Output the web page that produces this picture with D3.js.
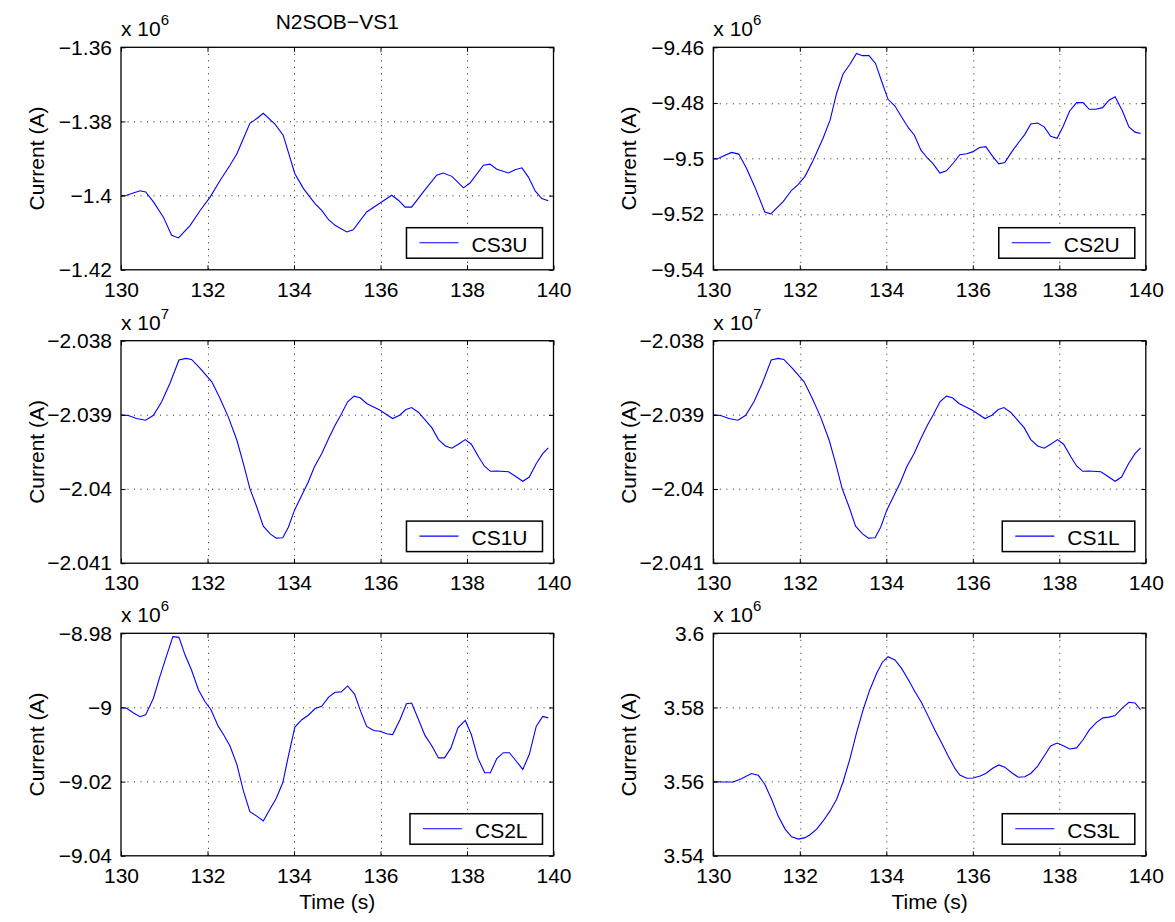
<!DOCTYPE html>
<html>
<head>
<meta charset="utf-8">
<script src="https://cdn.jsdelivr.net/npm/d3@7"></script>
<style>
  body { margin: 0; background: #fff; }
  svg { display: block; }
  text { font-family: "Liberation Sans", Helvetica, Arial, sans-serif; fill: #000; }
</style>
</head>
<body>
<svg id="chart" width="1175" height="922"></svg>
<script>
// time axis, shared by all panels
var xTicks = [130, 132, 134, 136, 138, 140];

// traces: [time (s), current in units of 10^exp A]
var cs3u = [[130.00,-1.4000],[130.13,-1.3999],[130.44,-1.3987],[130.57,-1.3990],[130.75,-1.4017],[130.98,-1.4058],[131.17,-1.4107],[131.33,-1.4114],[131.60,-1.4080],[131.83,-1.4040],[132.06,-1.4004],[132.29,-1.3959],[132.52,-1.3918],[132.68,-1.3887],[132.83,-1.3846],[132.98,-1.3805],[133.14,-1.3792],[133.29,-1.3778],[133.56,-1.3807],[133.75,-1.3837],[134.02,-1.3941],[134.22,-1.3981],[134.49,-1.4022],[134.64,-1.4040],[134.80,-1.4065],[134.95,-1.4080],[135.22,-1.4098],[135.37,-1.4092],[135.68,-1.4044],[135.99,-1.4020],[136.26,-1.3999],[136.42,-1.4013],[136.57,-1.4031],[136.72,-1.4031],[136.99,-1.3990],[137.30,-1.3945],[137.45,-1.3939],[137.65,-1.3948],[137.92,-1.3979],[138.07,-1.3966],[138.38,-1.3918],[138.53,-1.3915],[138.69,-1.3929],[138.96,-1.3939],[139.11,-1.3930],[139.27,-1.3925],[139.42,-1.3950],[139.58,-1.3988],[139.73,-1.4008],[139.88,-1.4014]];

var cs2u = [[130.00,-9.5000],[130.12,-9.4999],[130.42,-9.4978],[130.59,-9.4984],[130.77,-9.5036],[130.96,-9.5102],[131.19,-9.5192],[131.33,-9.5199],[131.62,-9.5154],[131.81,-9.5114],[131.96,-9.5094],[132.12,-9.5064],[132.31,-9.5006],[132.54,-9.4926],[132.70,-9.4862],[132.85,-9.4766],[133.00,-9.4696],[133.16,-9.4661],[133.31,-9.4622],[133.45,-9.4630],[133.60,-9.4630],[133.75,-9.4658],[133.91,-9.4730],[134.04,-9.4787],[134.20,-9.4811],[134.35,-9.4850],[134.51,-9.4889],[134.65,-9.4916],[134.80,-9.4970],[134.95,-9.4998],[135.08,-9.5018],[135.24,-9.5052],[135.39,-9.5044],[135.55,-9.5016],[135.70,-9.4986],[135.86,-9.4983],[135.99,-9.4976],[136.16,-9.4960],[136.30,-9.4957],[136.46,-9.4992],[136.60,-9.5019],[136.74,-9.5014],[136.90,-9.4976],[137.05,-9.4944],[137.20,-9.4914],[137.34,-9.4876],[137.50,-9.4872],[137.65,-9.4886],[137.80,-9.4920],[137.95,-9.4927],[138.09,-9.4884],[138.24,-9.4829],[138.40,-9.4799],[138.55,-9.4799],[138.69,-9.4823],[138.84,-9.4823],[139.00,-9.4817],[139.15,-9.4790],[139.29,-9.4778],[139.46,-9.4829],[139.61,-9.4886],[139.75,-9.4905],[139.88,-9.4910]];

var cs1u = [[130.00,-2.039000],[130.17,-2.039009],[130.36,-2.039050],[130.57,-2.039072],[130.75,-2.039005],[130.94,-2.038824],[131.13,-2.038577],[131.34,-2.038261],[131.50,-2.038239],[131.63,-2.038252],[131.83,-2.038374],[132.10,-2.038554],[132.29,-2.038779],[132.48,-2.039027],[132.68,-2.039342],[132.83,-2.039658],[132.98,-2.039995],[133.14,-2.040243],[133.29,-2.040500],[133.45,-2.040604],[133.59,-2.040662],[133.74,-2.040658],[133.87,-2.040514],[134.01,-2.040288],[134.16,-2.040108],[134.33,-2.039905],[134.47,-2.039703],[134.64,-2.039523],[134.80,-2.039320],[134.95,-2.039140],[135.08,-2.039005],[135.24,-2.038824],[135.39,-2.038748],[135.53,-2.038770],[135.68,-2.038847],[135.99,-2.038937],[136.28,-2.039050],[136.44,-2.039005],[136.59,-2.038928],[136.72,-2.038901],[136.88,-2.038968],[137.19,-2.039176],[137.34,-2.039333],[137.50,-2.039419],[137.65,-2.039450],[137.80,-2.039396],[137.96,-2.039333],[138.10,-2.039396],[138.27,-2.039568],[138.40,-2.039689],[138.54,-2.039761],[138.69,-2.039757],[138.96,-2.039766],[139.11,-2.039824],[139.29,-2.039896],[139.44,-2.039838],[139.60,-2.039658],[139.75,-2.039523],[139.88,-2.039446]];

// CS1L reads the same as CS1U on the figure
var cs1l = cs1u;

var cs2l = [[130.00,-9.0000],[130.13,-9.0002],[130.29,-9.0015],[130.44,-9.0025],[130.57,-9.0020],[130.75,-8.9975],[130.90,-8.9916],[131.06,-8.9858],[131.20,-8.9809],[131.34,-8.9811],[131.48,-8.9858],[131.63,-8.9899],[131.79,-8.9952],[131.94,-8.9984],[132.08,-9.0006],[132.25,-9.0051],[132.37,-9.0073],[132.52,-9.0104],[132.68,-9.0154],[132.83,-9.0225],[132.98,-9.0281],[133.14,-9.0293],[133.29,-9.0306],[133.45,-9.0273],[133.59,-9.0245],[133.74,-9.0203],[133.87,-9.0131],[134.02,-9.0053],[134.18,-9.0033],[134.33,-9.0021],[134.49,-9.0003],[134.64,-8.9997],[134.80,-8.9972],[134.95,-8.9959],[135.09,-8.9958],[135.24,-8.9942],[135.40,-8.9964],[135.54,-9.0010],[135.68,-9.0051],[135.84,-9.0062],[135.99,-9.0064],[136.14,-9.0071],[136.28,-9.0073],[136.45,-9.0033],[136.60,-8.9990],[136.72,-8.9988],[136.88,-9.0033],[137.03,-9.0076],[137.19,-9.0104],[137.34,-9.0136],[137.48,-9.0136],[137.63,-9.0109],[137.79,-9.0055],[137.96,-9.0035],[138.10,-9.0073],[138.25,-9.0136],[138.41,-9.0176],[138.54,-9.0176],[138.69,-9.0138],[138.84,-9.0122],[138.98,-9.0122],[139.14,-9.0145],[139.29,-9.0167],[139.44,-9.0127],[139.60,-9.0051],[139.75,-9.0024],[139.88,-9.0028]];

var cs3l = [[130.00,3.5600],[130.23,3.5599],[130.46,3.5599],[130.65,3.5608],[130.88,3.5622],[131.04,3.5617],[131.19,3.5593],[131.35,3.5552],[131.50,3.5507],[131.66,3.5472],[131.81,3.5451],[131.97,3.5445],[132.12,3.5449],[132.23,3.5456],[132.39,3.5472],[132.54,3.5494],[132.70,3.5521],[132.85,3.5552],[133.00,3.5599],[133.16,3.5662],[133.31,3.5731],[133.47,3.5796],[133.62,3.5848],[133.78,3.5893],[133.91,3.5922],[134.04,3.5937],[134.20,3.5928],[134.35,3.5906],[134.51,3.5875],[134.66,3.5843],[134.82,3.5812],[134.97,3.5776],[135.12,3.5740],[135.28,3.5704],[135.43,3.5669],[135.59,3.5635],[135.70,3.5618],[135.86,3.5609],[136.01,3.5610],[136.17,3.5615],[136.30,3.5622],[136.46,3.5636],[136.60,3.5645],[136.74,3.5639],[136.90,3.5624],[137.05,3.5612],[137.20,3.5613],[137.34,3.5622],[137.50,3.5642],[137.65,3.5669],[137.80,3.5696],[137.95,3.5704],[138.09,3.5697],[138.24,3.5688],[138.40,3.5691],[138.55,3.5713],[138.69,3.5739],[138.86,3.5760],[139.01,3.5772],[139.15,3.5774],[139.29,3.5778],[139.46,3.5799],[139.61,3.5814],[139.75,3.5812],[139.88,3.5794]];

// y ticks and their printed labels per panel
var cs3uTicks = [-1.42, -1.40, -1.38, -1.36];
var cs3uLabels = ["\u22121.42", "\u22121.4", "\u22121.38", "\u22121.36"];
var cs2uTicks = [-9.54, -9.52, -9.50, -9.48, -9.46];
var cs2uLabels = ["\u22129.54", "\u22129.52", "\u22129.5", "\u22129.48", "\u22129.46"];
var cs1Ticks = [-2.041, -2.040, -2.039, -2.038];
var cs1Labels = ["\u22122.041", "\u22122.04", "\u22122.039", "\u22122.038"];
var cs2lTicks = [-9.04, -9.02, -9.00, -8.98];
var cs2lLabels = ["\u22129.04", "\u22129.02", "\u22129", "\u22128.98"];
var cs3lTicks = [3.54, 3.56, 3.58, 3.60];
var cs3lLabels = ["3.54", "3.56", "3.58", "3.6"];

var panels = [
    {name: "CS3U", data: cs3u, ticks: cs3uTicks, labels: cs3uLabels, exp: 6, col: 0, row: 0},
    {name: "CS2U", data: cs2u, ticks: cs2uTicks, labels: cs2uLabels, exp: 6, col: 1, row: 0},
    {name: "CS1U", data: cs1u, ticks: cs1Ticks, labels: cs1Labels, exp: 7, col: 0, row: 1},
    {name: "CS1L", data: cs1l, ticks: cs1Ticks, labels: cs1Labels, exp: 7, col: 1, row: 1},
    {name: "CS2L", data: cs2l, ticks: cs2lTicks, labels: cs2lLabels, exp: 6, col: 0, row: 2},
    {name: "CS3L", data: cs3l, ticks: cs3lTicks, labels: cs3lLabels, exp: 6, col: 1, row: 2}
];

var colX = [121, 713.3];
var rowY = [47.3, 340.7, 633.3];
var plotW = 432.5, plotH = 222.5;
var fontSize = 21;
var tickLen = 4.5;

var svg = d3.select("#chart");

svg.append("text")
    .attr("x", colX[0] + plotW / 2)
    .attr("y", 29)
    .attr("text-anchor", "middle")
    .style("font-size", fontSize + "px")
    .text("N2SOB\u2212VS1");

panels.forEach(function(p){
    var x0 = colX[p.col], y0 = rowY[p.row];
    var g = svg.append("g").attr("transform", "translate(" + x0 + "," + y0 + ")");

    var x = d3.scaleLinear().domain([130, 140]).range([0, plotW]);
    var y = d3.scaleLinear().domain(d3.extent(p.ticks)).range([plotH, 0]);

    // dotted grid
    var grid = g.append("g").attr("stroke", "#222").attr("stroke-width", 1)
        .attr("stroke-dasharray", "1,5.5");
    grid.selectAll(".gx").data(xTicks.slice(1, -1)).enter().append("line")
        .attr("x1", function(d){ return Math.round(x(d)) + 0.5; })
        .attr("x2", function(d){ return Math.round(x(d)) + 0.5; })
        .attr("y1", 0).attr("y2", plotH);
    grid.selectAll(".gy").data(p.ticks.slice(1, -1)).enter().append("line")
        .attr("y1", function(d){ return Math.round(y(d)) + 0.5; })
        .attr("y2", function(d){ return Math.round(y(d)) + 0.5; })
        .attr("x1", 0).attr("x2", plotW);

    // trace
    var line = d3.line()
        .x(function(d){ return x(d[0]); })
        .y(function(d){ return y(d[1]); });
    g.append("path")
        .datum(p.data)
        .attr("d", line)
        .attr("fill", "none")
        .attr("stroke", "#0000ff")
        .attr("stroke-width", 1.1);

    // axes with inward ticks on all four sides
    var bottom = g.append("g").attr("transform", "translate(0," + plotH + ")")
        .call(d3.axisBottom(x).tickValues(xTicks).tickFormat(d3.format("d"))
            .tickSizeInner(-tickLen).tickSizeOuter(0).tickPadding(12));
    var top = g.append("g")
        .call(d3.axisTop(x).tickValues(xTicks).tickFormat("")
            .tickSizeInner(-tickLen).tickSizeOuter(0));
    var left = g.append("g")
        .call(d3.axisLeft(y).tickValues(p.ticks).tickFormat(function(d, i){ return p.labels[i]; })
            .tickSizeInner(-tickLen).tickSizeOuter(0).tickPadding(9));
    var right = g.append("g").attr("transform", "translate(" + plotW + ",0)")
        .call(d3.axisRight(y).tickValues(p.ticks).tickFormat("")
            .tickSizeInner(-tickLen).tickSizeOuter(0));

    [bottom, top, left, right].forEach(function(a){
        a.attr("font-family", null).attr("font-size", null);
        a.select(".domain").remove();
        a.selectAll("line").attr("stroke", "#000").attr("stroke-width", 1);
        a.selectAll("text").style("font-size", fontSize + "px").attr("fill", "#000");
    });

    // box
    g.append("rect")
        .attr("x", 0).attr("y", 0)
        .attr("width", plotW).attr("height", plotH)
        .attr("fill", "none").attr("stroke", "#000").attr("stroke-width", 1.3);

    // exponent label
    var ex = g.append("text").attr("x", 0).attr("y", -11).style("font-size", fontSize + "px");
    ex.append("tspan").text("x 10");
    ex.append("tspan").attr("dy", -11).style("font-size", "15px").text(p.exp);

    // y label
    g.append("text")
        .attr("transform", "translate(-77," + (plotH / 2) + ") rotate(-90)")
        .attr("text-anchor", "middle")
        .style("font-size", fontSize + "px")
        .text("Current (A)");

    if (p.row === 2) {
        g.append("text")
            .attr("x", plotW / 2).attr("y", plotH + 53)
            .attr("text-anchor", "middle")
            .style("font-size", fontSize + "px")
            .text("Time (s)");
    }

    // legend, anchored to lower right
    var lg = g.append("g");
    var lt = lg.append("text").style("font-size", fontSize + "px").text(p.name);
    var tw = lt.node().getComputedTextLength();
    var boxW = 13 + 39 + 13 + tw + 15, boxH = 30.5;
    var bx = plotW - 11 - boxW, by = plotH - 11.6 - boxH;
    lg.insert("rect", "text")
        .attr("x", bx).attr("y", by).attr("width", boxW).attr("height", boxH)
        .attr("fill", "#fff").attr("stroke", "#000").attr("stroke-width", 1.5);
    lg.append("line")
        .attr("x1", bx + 13).attr("x2", bx + 52)
        .attr("y1", by + 15).attr("y2", by + 15)
        .attr("stroke", "#0000ff").attr("stroke-width", 1.1);
    lt.attr("x", bx + 65).attr("y", by + 24.4);
});
</script>
</body>
</html>
